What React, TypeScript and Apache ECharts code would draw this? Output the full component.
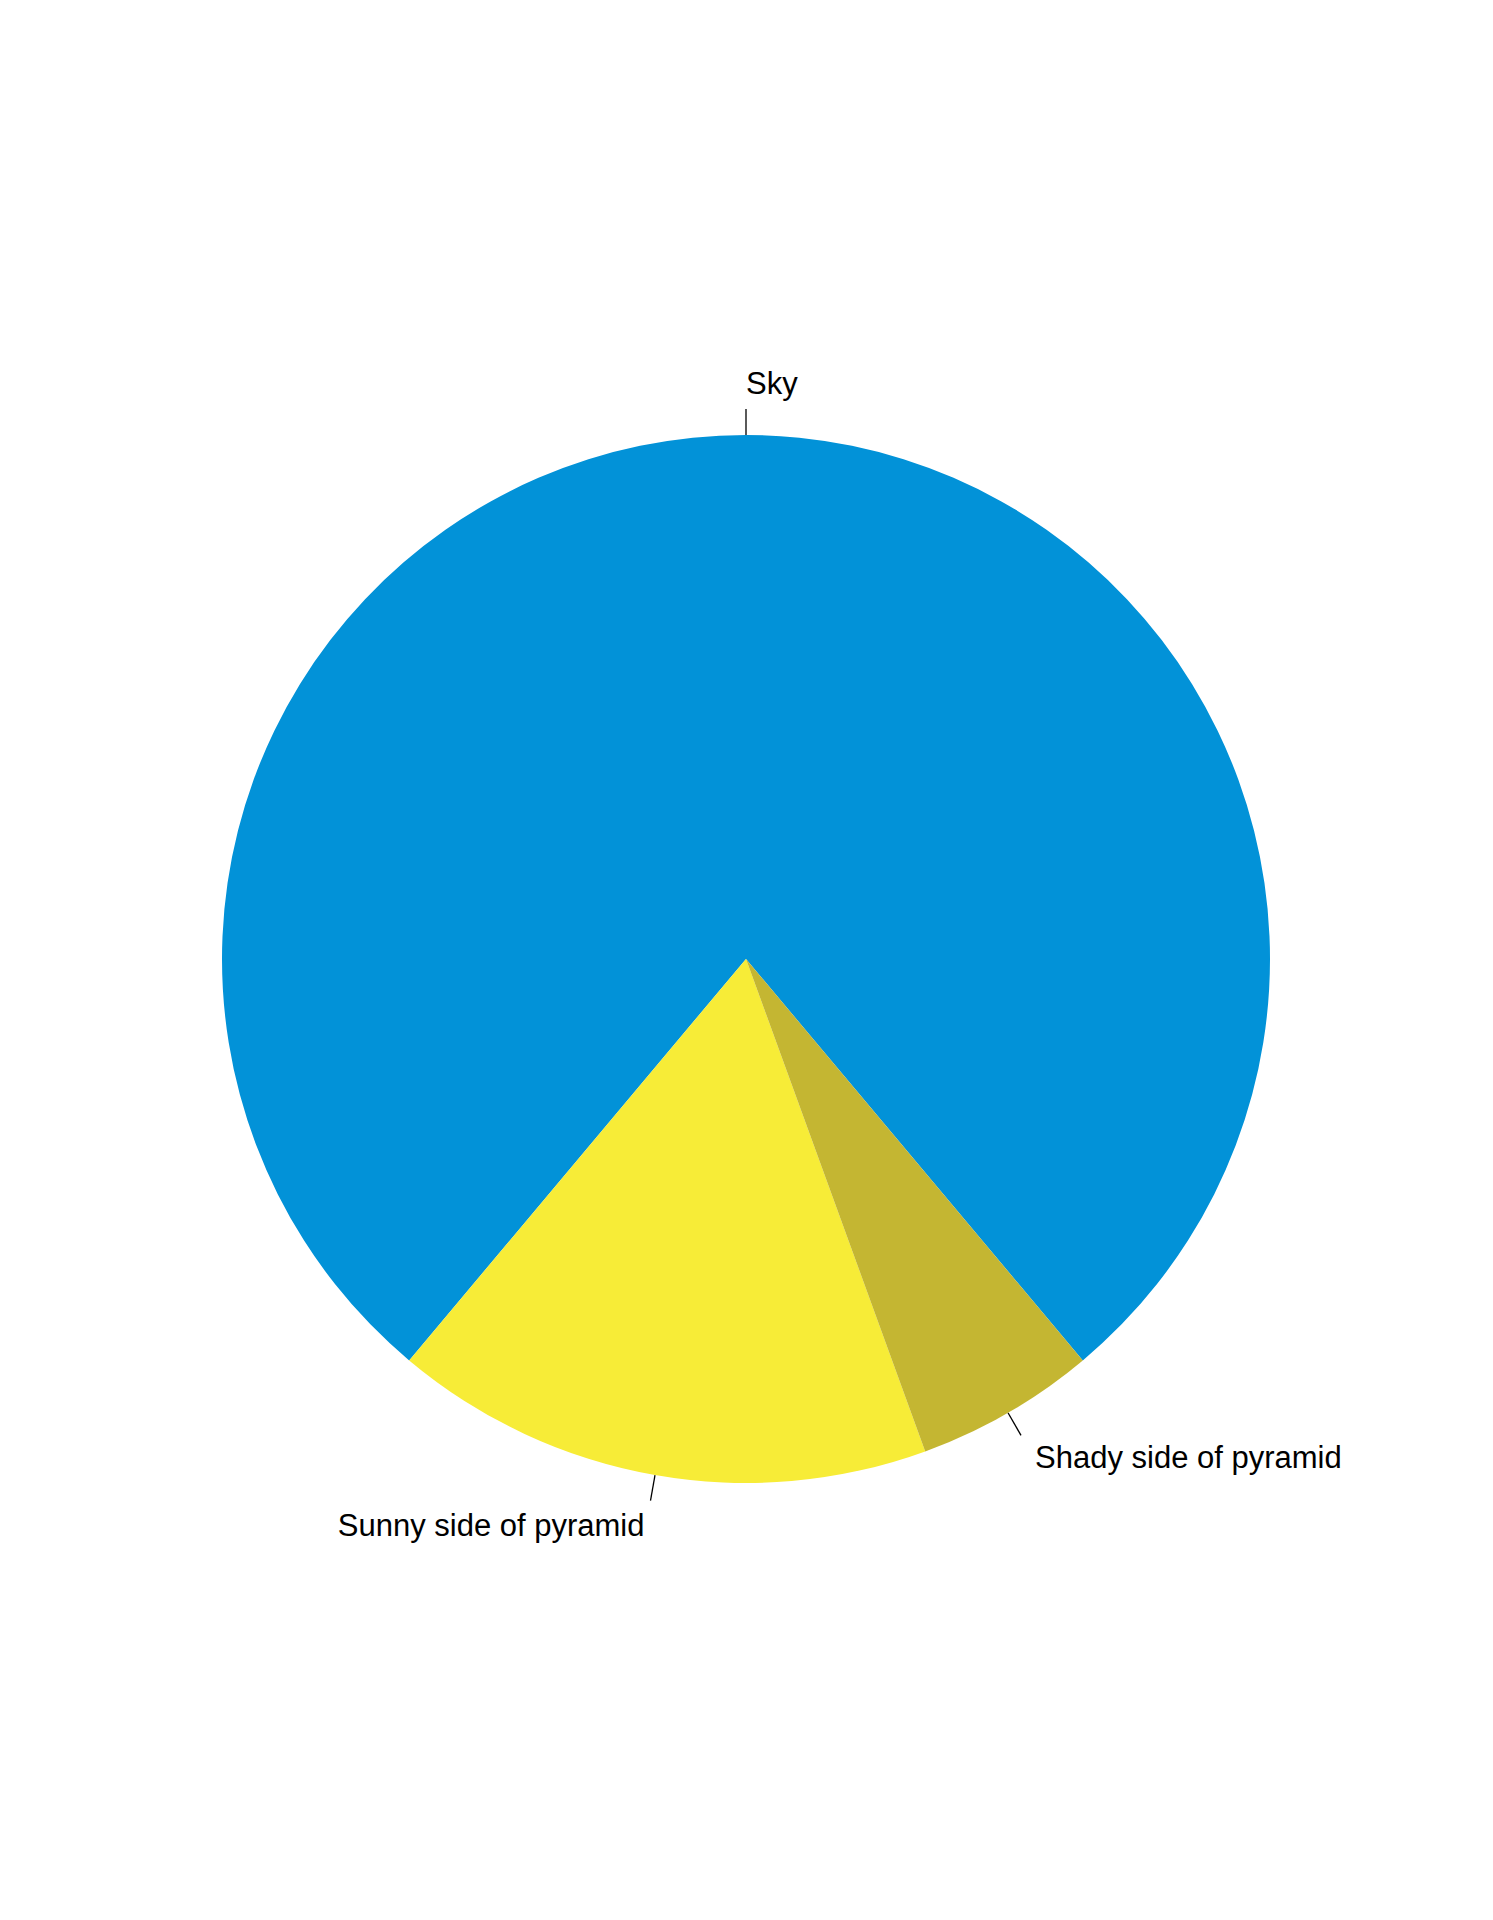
import React, { useEffect, useRef } from "react";
import * as echarts from "echarts";

const categories = ["Sky", "Sunny side of pyramid", "Shady side of pyramid"];
const values = [280, 60, 20];
const colors = ["#0292D8", "#F7EC37", "#C4B632"];

// label placement tweaks (styles), by slice index
const labelDistance = [0, 6, 14];
// vertical shift of the label away from the end of its line: negative = up
const labelShift = [-26, 25, 22];

export default function App() {
  const ref = useRef<HTMLDivElement>(null);
  useEffect(() => {
    document.body.style.margin = "0";
    if (!ref.current) return;
    const chart = echarts.init(ref.current, undefined, { renderer: "svg" });
    chart.setOption({
      animation: false,
      backgroundColor: "#ffffff",
      series: [
        {
          type: "pie",
          center: [746, 959],
          radius: [0, 524],
          startAngle: -50,
          clockwise: false,
          avoidLabelOverlap: false,
          silent: true,
          itemStyle: { borderWidth: 0 },
          label: {
            show: true,
            position: "outside",
            color: "#000000",
            fontFamily: "Liberation Sans, Arial, sans-serif",
            fontSize: 31,
          },
          labelLine: {
            show: true,
            length: 26,
            length2: 0,
            smooth: false,
            lineStyle: { color: "#000000", width: 1.3 },
          },
          data: categories.map((name, i) => ({
            name,
            value: values[i],
            itemStyle: { color: colors[i] },
            label: {
              distanceToLabelLine: labelDistance[i],
              lineHeight: Math.abs(labelShift[i]) * 2,
              formatter: labelShift[i] < 0 ? "{b}\n" : "\n{b}",
            },
          })),
        },
      ],
    });
    return () => chart.dispose();
  }, []);
  return <div ref={ref} style={{ width: 1493, height: 1920 }} />;
}
